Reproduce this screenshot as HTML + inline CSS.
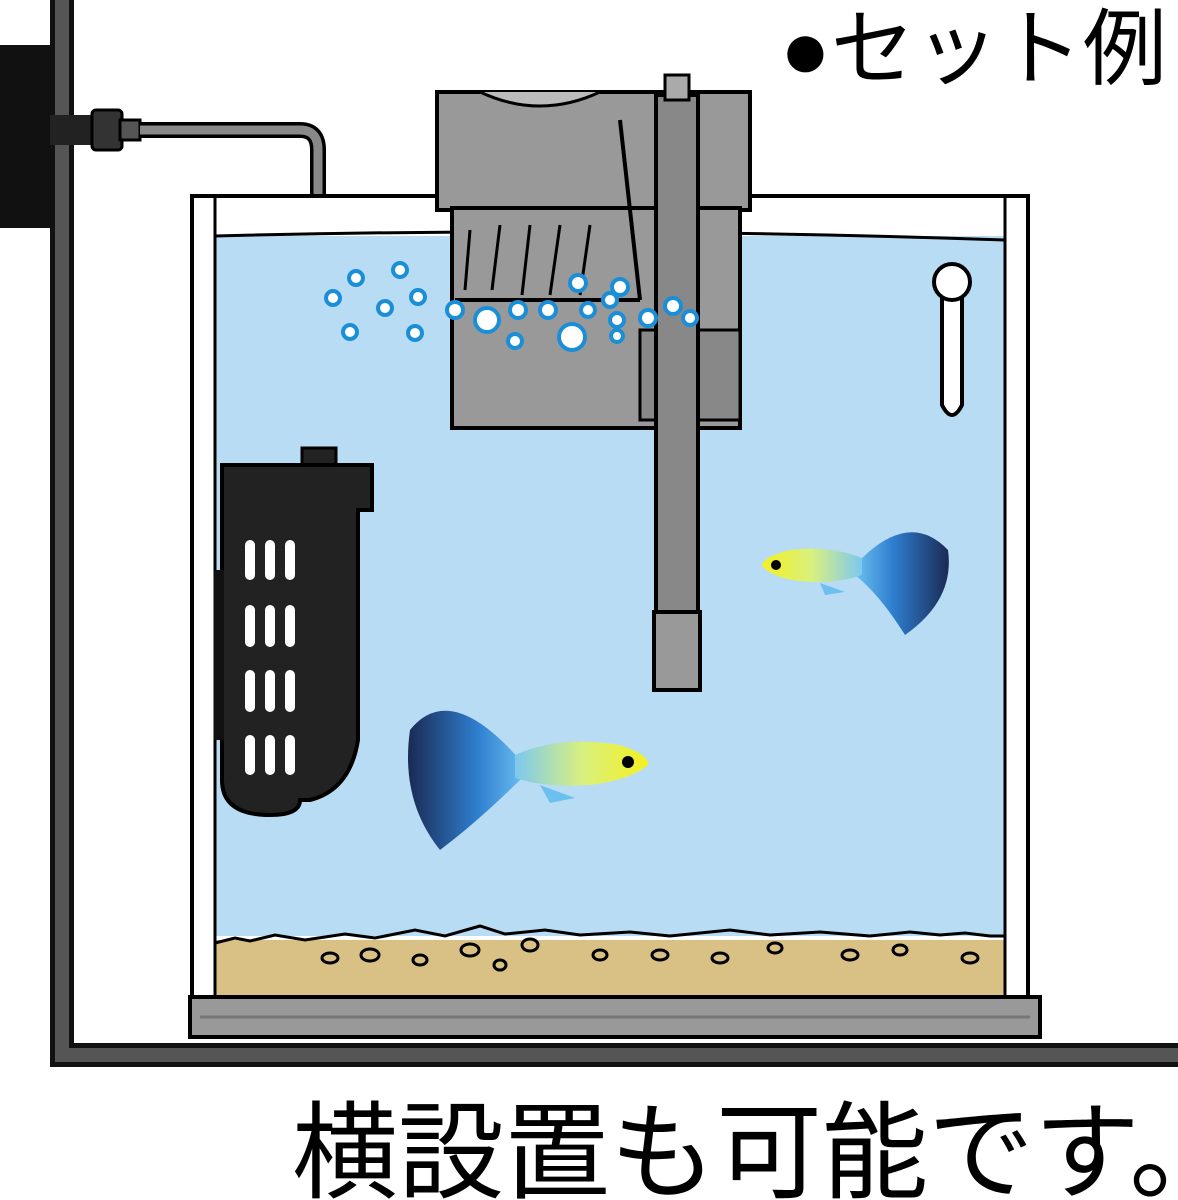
<!DOCTYPE html>
<html><head><meta charset="utf-8"><style>
html,body{margin:0;padding:0;background:#fff;width:1178px;height:1200px;overflow:hidden}
svg{display:block}
text{font-family:"Liberation Sans","Noto Sans CJK JP",sans-serif}
</style></head><body>
<svg width="1178" height="1200" viewBox="0 0 1178 1200" xmlns="http://www.w3.org/2000/svg">
<defs>
<linearGradient id="fishb" x1="0" x2="1"><stop offset="0" stop-color="#1a2a55"/><stop offset="0.6" stop-color="#2f7fd0"/><stop offset="1" stop-color="#6cc0f0"/></linearGradient>
<linearGradient id="fishbody" x1="0" x2="1"><stop offset="0" stop-color="#7cc8f0"/><stop offset="0.5" stop-color="#d8f080"/><stop offset="1" stop-color="#f4f020"/></linearGradient>
<linearGradient id="fishb2" x1="1" x2="0"><stop offset="0" stop-color="#1a2a55"/><stop offset="0.6" stop-color="#2f7fd0"/><stop offset="1" stop-color="#6cc0f0"/></linearGradient>
<linearGradient id="fishbody2" x1="1" x2="0"><stop offset="0" stop-color="#7cc8f0"/><stop offset="0.5" stop-color="#d8f080"/><stop offset="1" stop-color="#f4f020"/></linearGradient>
</defs>
<path d="M62 0 V1055 H1178" fill="none" stroke="#111" stroke-width="24"/>
<path d="M62 0 V1055 H1178" fill="none" stroke="#555" stroke-width="14"/>
<rect x="0" y="45" width="50" height="183" fill="#111"/>
<rect x="50" y="115" width="45" height="30" fill="#222"/>
<rect x="92" y="110" width="30" height="40" rx="4" fill="#333" stroke="#000" stroke-width="3"/>
<rect x="120" y="120" width="20" height="20" fill="#555" stroke="#000" stroke-width="3"/>
<path d="M140 130 H300 Q318 130 318 150 V450" fill="none" stroke="#000" stroke-width="16"/>
<path d="M140 130 H300 Q318 130 318 150 V450" fill="none" stroke="#888" stroke-width="9"/>
<rect x="192" y="196" width="836" height="810" fill="#fff" stroke="#000" stroke-width="4"/>
<rect x="215" y="236" width="790" height="700" fill="#b9dcf5"/>
<path d="M215 236 Q600 226 1005 240" stroke="#000" stroke-width="3" fill="none"/>
<rect x="215" y="940" width="790" height="58" fill="#d9c185"/>
<path d="M215 943 l20 -5 l15 3 l25 -6 l30 5 l40 -6 l30 4 l40 -8 l30 6 l35 -10 l25 8 l40 -4 l35 5 l50 -3 l40 4 l60 -6 l40 5 l50 -3 l50 4 l40 -4 l30 3 l25 -2 l25 3 l15 0" fill="none" stroke="#000" stroke-width="3"/>
<g fill="none" stroke="#000" stroke-width="3">
<ellipse cx="330" cy="958" rx="8" ry="5"/><ellipse cx="370" cy="955" rx="9" ry="6"/><ellipse cx="420" cy="960" rx="7" ry="5"/><ellipse cx="470" cy="950" rx="9" ry="6"/><ellipse cx="500" cy="965" rx="6" ry="5"/><ellipse cx="530" cy="945" rx="8" ry="6"/><ellipse cx="600" cy="955" rx="7" ry="5"/><ellipse cx="660" cy="955" rx="8" ry="5"/><ellipse cx="720" cy="958" rx="8" ry="5"/><ellipse cx="775" cy="948" rx="7" ry="5"/><ellipse cx="850" cy="955" rx="8" ry="5"/><ellipse cx="900" cy="950" rx="7" ry="5"/><ellipse cx="970" cy="958" rx="8" ry="5"/>
</g>
<line x1="215" y1="196" x2="215" y2="998" stroke="#000" stroke-width="3"/>
<line x1="1005" y1="196" x2="1005" y2="998" stroke="#000" stroke-width="3"/>
<rect x="190" y="997" width="850" height="40" fill="#999" stroke="#000" stroke-width="4"/>
<line x1="200" y1="1017" x2="1030" y2="1017" stroke="#777" stroke-width="3"/>
<path d="M437 92 L750 92 L750 210 L452 210 L437 210 Z" fill="#999" stroke="#000" stroke-width="4"/>
<path d="M480 92 Q540 120 600 92" fill="#bbb" stroke="#000" stroke-width="3"/>
<rect x="452" y="208" width="288" height="220" fill="#999" stroke="#000" stroke-width="4"/>
<path d="M455 300 H640" stroke="#000" stroke-width="4"/>
<path d="M470 230 l-5 60 M500 225 l-8 65 M530 225 l-8 70 M560 225 l-10 70 M590 225 l-10 70" stroke="#000" stroke-width="3" fill="none"/>
<rect x="640" y="330" width="100" height="90" fill="#888" stroke="#000" stroke-width="3"/>
<path d="M620 120 L640 300" stroke="#000" stroke-width="4"/>
<rect x="656" y="95" width="42" height="520" fill="#888" stroke="#000" stroke-width="4"/>
<rect x="665" y="75" width="24" height="25" fill="#aaa" stroke="#000" stroke-width="3"/>
<rect x="654" y="612" width="46" height="78" fill="#999" stroke="#000" stroke-width="4"/>
<path d="M942 280 V405 Q952 425 962 405 V280 Z" fill="#fff" stroke="#000" stroke-width="4"/>
<circle cx="952" cy="282" r="18" fill="#fff" stroke="#000" stroke-width="4"/>
<g fill="#fff" stroke="#1a8fd8" stroke-width="4">
<circle cx="356" cy="278" r="7"/><circle cx="400" cy="270" r="7"/><circle cx="333" cy="298" r="7"/><circle cx="385" cy="308" r="7"/><circle cx="418" cy="297" r="7"/><circle cx="350" cy="332" r="7"/><circle cx="415" cy="333" r="7"/><circle cx="455" cy="310" r="8"/><circle cx="487" cy="320" r="12"/><circle cx="518" cy="310" r="8"/><circle cx="515" cy="341" r="7"/><circle cx="548" cy="310" r="8"/><circle cx="572" cy="337" r="13"/><circle cx="578" cy="283" r="8"/><circle cx="588" cy="310" r="7"/><circle cx="610" cy="300" r="7"/><circle cx="620" cy="287" r="8"/><circle cx="617" cy="320" r="7"/><circle cx="617" cy="336" r="6"/><circle cx="648" cy="318" r="8"/><circle cx="673" cy="306" r="8"/><circle cx="690" cy="318" r="7"/>
</g>
<rect x="302" y="448" width="34" height="20" fill="#222" stroke="#000" stroke-width="3"/>
<path d="M222 465 H372 V510 H358 V740 Q350 790 310 800 L300 800 Q300 815 270 815 Q222 815 222 780 Z" fill="#222" stroke="#000" stroke-width="4"/>
<rect x="214" y="570" width="10" height="170" fill="#111"/>
<g fill="#fff">
<rect x="245" y="540" width="10" height="40" rx="5"/><rect x="265" y="540" width="10" height="40" rx="5"/><rect x="285" y="540" width="10" height="40" rx="5"/>
<rect x="245" y="605" width="10" height="42" rx="5"/><rect x="265" y="605" width="10" height="42" rx="5"/><rect x="285" y="605" width="10" height="42" rx="5"/>
<rect x="245" y="670" width="10" height="42" rx="5"/><rect x="265" y="670" width="10" height="42" rx="5"/><rect x="285" y="670" width="10" height="42" rx="5"/>
<rect x="245" y="735" width="10" height="40" rx="5"/><rect x="265" y="735" width="10" height="40" rx="5"/><rect x="285" y="735" width="10" height="40" rx="5"/>
</g>
<path d="M520 760 Q450 680 410 730 Q400 800 440 850 Q480 820 525 775 Z" fill="url(#fishb)"/>
<path d="M515 755 Q560 735 620 745 Q650 755 648 765 Q630 780 590 785 Q545 788 515 778 Z" fill="url(#fishbody)"/>
<path d="M540 785 l10 18 l25 -5 Z" fill="#6cc0f0"/>
<circle cx="628" cy="762" r="6" fill="#000"/>
<path d="M860 560 Q910 510 948 550 Q955 600 905 635 Q880 595 855 575 Z" fill="url(#fishb2)"/>
<path d="M862 558 Q830 545 790 550 Q762 557 762 566 Q775 580 810 582 Q840 583 862 575 Z" fill="url(#fishbody2)"/>
<path d="M820 583 l5 12 l20 -3 Z" fill="#6cc0f0"/>
<circle cx="776" cy="565" r="5" fill="#000"/>
<text x="780" y="78" font-size="84" fill="#000">●セット例</text>
<text x="292" y="1190" font-size="106" fill="#000">横設置も可能です。</text>
</svg>
</body></html>
